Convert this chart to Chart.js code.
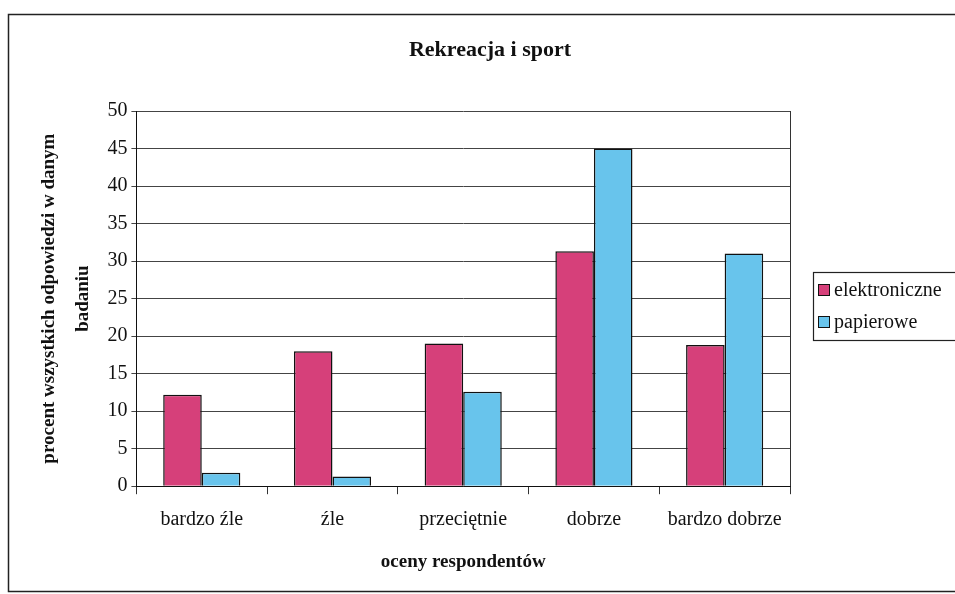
<!DOCTYPE html>
<html>
<head>
<meta charset="utf-8">
<script src="https://cdn.jsdelivr.net/npm/chart.js@4.4.1/dist/chart.umd.min.js"></script>
<style>
    html, body { margin: 0; padding: 0; background: #fff; overflow: hidden; }
    #wrap { position: absolute; left: 0; top: 0; width: 1000px; height: 594px; }
</style>
</head>
<body>
<div id="wrap"><canvas id="chart" width="1000" height="594"></canvas></div>
<script>
// === DANE ===
const categories = ['bardzo źle', 'źle', 'przeciętnie', 'dobrze', 'bardzo dobrze'];
const elektroniczne = [12.2, 18, 19, 31.3, 18.8];
const papierowe = [1.8, 1.3, 12.6, 45, 31];
const yTicks = [0, 5, 10, 15, 20, 25, 30, 35, 40, 45, 50];
const chartTitle = 'Rekreacja i sport';

const serif = "'Liberation Serif', 'Times New Roman', serif";

// ramka, tytuł, legenda w ramce, prawa krawędź obszaru
const framePlugin = {
    id: 'frames',
    beforeDraw(chart) {
        const ctx = chart.ctx;
        ctx.save();
        ctx.fillStyle = '#fff';
        ctx.fillRect(0, 0, chart.width, chart.height);
        ctx.strokeStyle = '#222';
        ctx.lineWidth = 1.5;
        ctx.strokeRect(8.5, 14.5, 990, 577);
        ctx.restore();
    },
    afterDraw(chart) {
        const ctx = chart.ctx;
        const a = chart.chartArea;
        ctx.save();
        // prawa krawędź obszaru kreślenia
        ctx.strokeStyle = '#333';
        ctx.lineWidth = 1;
        ctx.beginPath();
        ctx.moveTo(Math.round(a.right) + 0.5, a.top);
        ctx.lineTo(Math.round(a.right) + 0.5, a.bottom);
        ctx.stroke();

        // tytuł
        ctx.fillStyle = '#111';
        ctx.font = 'bold 22px ' + serif;
        ctx.textAlign = 'center';
        ctx.textBaseline = 'middle';
        ctx.fillText(chartTitle, 490, 50);

        // legenda
        const lx = a.right + 23, ly = 272, lh = 68;
        ctx.strokeStyle = '#222';
        ctx.lineWidth = 1.2;
        ctx.strokeRect(Math.round(lx) + 0.5, ly + 0.5, 200, lh);
        ctx.font = '20px ' + serif;
        ctx.textAlign = 'left';
        chart.data.datasets.forEach((ds, i) => {
            const cy = ly + 18 + i * 32;
            ctx.fillStyle = ds.backgroundColor;
            ctx.fillRect(lx + 5, cy - 6, 12, 12);
            ctx.strokeStyle = '#111';
            ctx.lineWidth = 1;
            ctx.strokeRect(lx + 5.5, cy - 5.5, 11, 11);
            ctx.fillStyle = '#111';
            ctx.fillText(ds.label, lx + 21, cy + 1);
        });
        ctx.restore();
    }
};

const ctx = document.getElementById('chart').getContext('2d');
new Chart(ctx, {
    type: 'bar',
    data: {
        labels: categories,
        datasets: [{
            label: 'elektroniczne',
            data: elektroniczne,
            backgroundColor: '#d6407a',
            borderColor: '#111',
            borderWidth: 1.5,
            barPercentage: 1.0,
            categoryPercentage: 0.59
        }, {
            label: 'papierowe',
            data: papierowe,
            backgroundColor: '#68c4ec',
            borderColor: '#111',
            borderWidth: 1.5,
            barPercentage: 1.0,
            categoryPercentage: 0.59
        }]
    },
    options: {
        responsive: false,
        animation: false,
        layout: { padding: { left: 32, right: 210, top: 111, bottom: 21 } },
        plugins: {
            title: { display: false },
            legend: { display: false },
            tooltip: { enabled: false }
        },
        scales: {
            x: {
                offset: true,
                grid: { offset: true, drawOnChartArea: false, tickLength: 8, color: '#333' },
                border: { color: '#111', width: 1 },
                ticks: { color: '#111', padding: 14, font: { family: serif, size: 20 } },
                title: {
                    display: true,
                    text: 'oceny respondentów',
                    color: '#111',
                    font: { family: serif, size: 19, weight: 'bold' },
                    padding: { top: 4, bottom: 0 }
                }
            },
            y: {
                min: 0,
                max: 50,
                afterBuildTicks: axis => { axis.ticks = yTicks.map(v => ({ value: v })); },
                grid: { color: '#444', tickLength: 5 },
                border: { color: '#111', width: 1 },
                ticks: { color: '#111', padding: 4, font: { family: serif, size: 20 } },
                title: {
                    display: true,
                    text: ['procent wszystkich odpowiedzi w danym', 'badaniu'],
                    color: '#111',
                    font: { family: serif, size: 19, weight: 'bold', lineHeight: 1.8 },
                    padding: { top: 0, bottom: 3 }
                }
            }
        }
    },
    plugins: [framePlugin]
});
</script>
</body>
</html>
